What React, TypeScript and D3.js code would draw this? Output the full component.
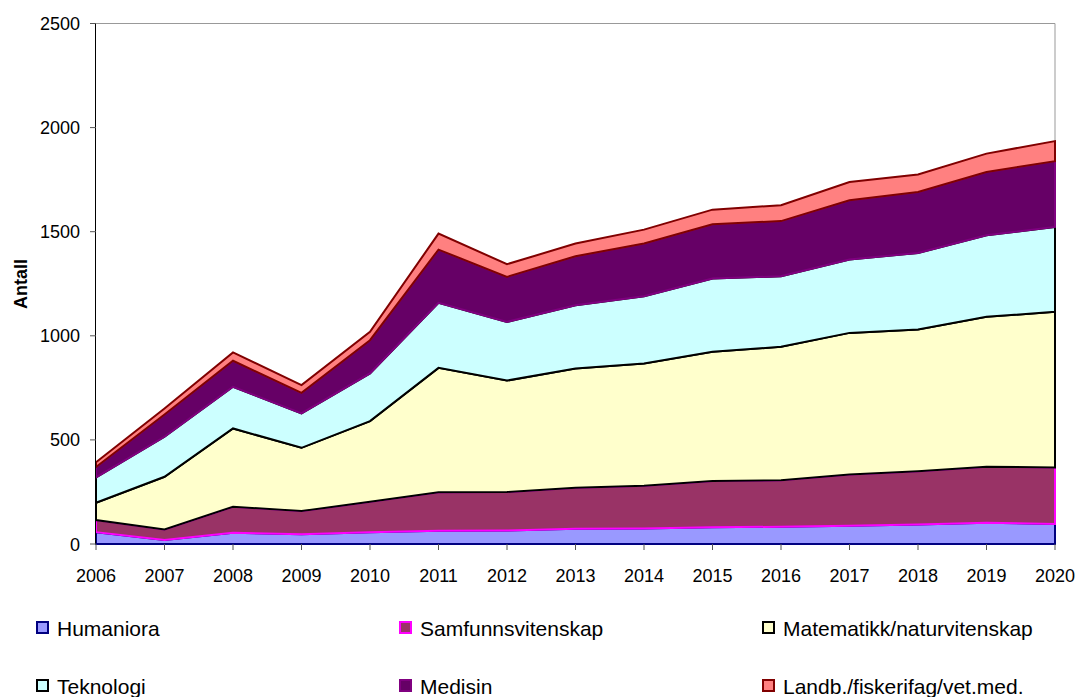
import React from "react";
import * as d3 from "d3";

const years = [2006, 2007, 2008, 2009, 2010, 2011, 2012, 2013, 2014, 2015, 2016, 2017, 2018, 2019, 2020];
const humaniora = [57, 19, 54, 47, 56, 64, 65, 73, 74, 80, 83, 88, 94, 102, 96];
const samfunnsvitenskap = [58, 51, 125, 111, 147, 184, 185, 197, 206, 222, 223, 246, 256, 269, 272];
const matematikk = [83, 253, 376, 304, 387, 598, 535, 573, 587, 621, 641, 680, 680, 720, 747];
const teknologi = [122, 192, 200, 165, 229, 312, 282, 304, 323, 352, 339, 352, 368, 392, 408];
const medisin = [50, 107, 125, 99, 160, 256, 216, 235, 253, 261, 265, 285, 293, 304, 316];
const landbruk = [23, 29, 40, 37, 40, 77, 61, 61, 67, 70, 76, 88, 84, 88, 96];
const yTicks = [0, 500, 1000, 1500, 2000, 2500];

const seriesNames = ["Humaniora", "Samfunnsvitenskap", "Matematikk/naturvitenskap", "Teknologi", "Medisin", "Landb./fiskerifag/vet.med."];
const seriesValues = [humaniora, samfunnsvitenskap, matematikk, teknologi, medisin, landbruk];
const fills = ["#9999FF", "#993366", "#FFFFCC", "#CCFFFF", "#660066", "#FF8080"];
const strokes = ["#000080", "#FF00FF", "#000000", "#000000", "#800080", "#800000"];

export default function App() {
  const W = 1078, H = 697;
  const left = 96, right = 1055, top = 23.5, bottom = 544;
  const x = d3.scaleLinear().domain([2006, 2020]).range([left, right]);
  const y = d3.scaleLinear().domain([0, 2500]).range([bottom, top]);

  const table = years.map((yr, i) => {
    const row: any = { year: yr };
    seriesNames.forEach((n, k) => (row[n] = seriesValues[k][i]));
    return row;
  });
  const stacked = d3.stack().keys(seriesNames)(table);
  const area = d3
    .area<any>()
    .x((d: any) => x(d.data.year))
    .y0((d: any) => y(d[0]))
    .y1((d: any) => y(d[1]));

  const font = "'Liberation Sans', Arial, sans-serif";
  const legendCols = [37, 400, 763];
  const legendRows = [628, 686];

  return (
    <svg width={W} height={H} style={{ position: "absolute", left: 0, top: 0, background: "#fff" }} fontFamily={font}>
      <rect x={0} y={0} width={W} height={H} fill="#fff" />
      <line x1={left} x2={right} y1={top} y2={top} stroke="#999" strokeWidth={1} />
      <line x1={right} x2={right} y1={top} y2={bottom} stroke="#999" strokeWidth={1} />
      {stacked.map((s, k) => (
        <path key={k} d={area(s as any) + "Z"} fill={fills[k]} stroke={strokes[k]} strokeWidth={2} strokeLinejoin="miter" />
      ))}
      <line x1={left - 0.5} x2={left - 0.5} y1={top} y2={bottom} stroke="#000" strokeWidth={1} />
      {yTicks.map((t) => (
        <g key={t}>
          <line x1={left - 6} x2={left} y1={y(t)} y2={y(t)} stroke="#555" strokeWidth={1} />
          <text x={80} y={y(t) + 6.5} textAnchor="end" fontSize={18} fill="#000">
            {t}
          </text>
        </g>
      ))}
      <line x1={left} x2={right} y1={bottom} y2={bottom} stroke="#000080" strokeWidth={1.5} />
      {years.map((yr) => (
        <g key={yr}>
          <line x1={x(yr)} x2={x(yr)} y1={bottom} y2={bottom + 6} stroke="#555" strokeWidth={1} />
          <text x={x(yr)} y={582} textAnchor="middle" fontSize={18} fill="#000">
            {yr}
          </text>
        </g>
      ))}
      <text transform="translate(27,284) rotate(-90)" textAnchor="middle" fontSize={18} fontWeight="bold" fill="#000">
        Antall
      </text>
      {seriesNames.map((n, k) => {
        const cx = legendCols[k % 3];
        const cy = legendRows[Math.floor(k / 3)];
        return (
          <g key={n}>
            <rect x={cx} y={cy - 6} width={11} height={11} fill={fills[k]} stroke={strokes[k]} strokeWidth={2} />
            <text x={cx + 20} y={cy + 7.5} fontSize={21} fill="#000">
              {n}
            </text>
          </g>
        );
      })}
    </svg>
  );
}
